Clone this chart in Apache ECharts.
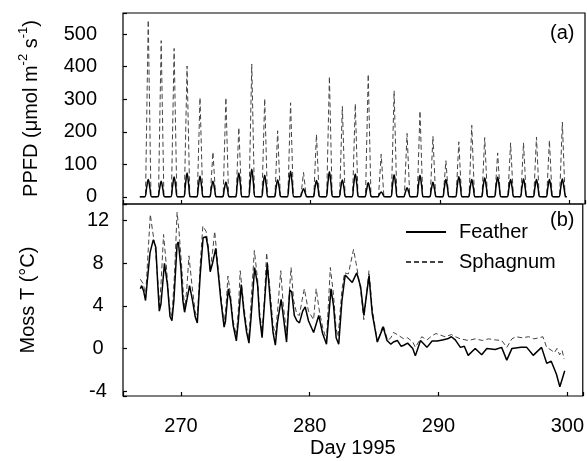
<!DOCTYPE html>
<html><head><meta charset="utf-8">
<script src="https://cdn.jsdelivr.net/npm/echarts@6/dist/echarts.min.js"></script>
<style>html,body{margin:0;padding:0;background:#fff}#c{width:587px;height:461px}</style>
</head><body><div id="c"></div>
<script>
const xTicks = [270, 280, 290, 300];
const ppfdTicks = [0, 100, 200, 300, 400, 500];
const tempTicks = [-4, 0, 4, 8, 12];

// PPFD (umol m-2 s-1), panel (a): [day, value]
const featherPPFD = [
[266.8,0],
[267.17,0],[267.32,27],[267.45,53],[267.58,27],[267.73,0],
[268.17,0],[268.32,24],[268.45,48],[268.58,24],[268.73,0],
[269.17,0],[269.32,30],[269.45,61],[269.58,30],[269.73,0],
[270.17,0],[270.32,36],[270.45,73],[270.58,36],[270.73,0],
[271.17,0],[271.32,31],[271.45,63],[271.58,31],[271.73,0],
[272.17,0],[272.32,24],[272.45,48],[272.58,24],[272.73,0],
[273.17,0],[273.32,22],[273.45,45],[273.58,22],[273.73,0],
[274.17,0],[274.32,36],[274.45,73],[274.58,36],[274.73,0],
[275.17,0],[275.32,42],[275.45,85],[275.58,42],[275.73,0],
[276.17,0],[276.32,33],[276.45,66],[276.58,33],[276.73,0],
[277.17,0],[277.32,26],[277.45,52],[277.58,26],[277.73,0],
[278.17,0],[278.32,39],[278.45,79],[278.58,39],[278.73,0],
[279.17,0],[279.32,12],[279.45,25],[279.58,12],[279.73,0],
[280.17,0],[280.32,25],[280.45,50],[280.58,25],[280.73,0],
[281.17,0],[281.32,38],[281.45,77],[281.58,38],[281.73,0],
[282.17,0],[282.32,26],[282.45,52],[282.58,26],[282.73,0],
[283.17,0],[283.32,35],[283.45,70],[283.58,35],[283.73,0],
[284.17,0],[284.32,21],[284.45,43],[284.58,21],[284.73,0],
[285.17,0],[285.32,8],[285.45,15],[285.58,8],[285.73,0],
[286.17,0],[286.32,34],[286.45,68],[286.58,34],[286.73,0],
[287.17,0],[287.32,14],[287.45,28],[287.58,14],[287.73,0],
[288.17,0],[288.32,33],[288.45,66],[288.58,33],[288.73,0],
[289.17,0],[289.32,22],[289.45,45],[289.58,22],[289.73,0],
[290.17,0],[290.32,26],[290.45,53],[290.58,26],[290.73,0],
[291.17,0],[291.32,31],[291.45,62],[291.58,31],[291.73,0],
[292.17,0],[292.32,26],[292.45,53],[292.58,26],[292.73,0],
[293.17,0],[293.32,29],[293.45,58],[293.58,29],[293.73,0],
[294.17,0],[294.32,30],[294.45,60],[294.58,30],[294.73,0],
[295.17,0],[295.32,26],[295.45,53],[295.58,26],[295.73,0],
[296.17,0],[296.32,27],[296.45,55],[296.58,27],[296.73,0],
[297.17,0],[297.32,26],[297.45,53],[297.58,26],[297.73,0],
[298.17,0],[298.32,26],[298.45,53],[298.58,26],[298.73,0],
[299.17,0],[299.32,27],[299.45,55],[299.58,27],[299.73,0],
[299.8,0]
];
const sphagnumPPFD = [
[266.8,0],
[267.24,0],[267.45,543],[267.66,0],
[268.24,0],[268.45,480],[268.66,0],
[269.24,0],[269.45,456],[269.66,0],
[270.24,0],[270.45,402],[270.66,0],
[271.24,0],[271.45,305],[271.66,0],
[272.24,0],[272.45,138],[272.66,0],
[273.24,0],[273.45,305],[273.66,0],
[274.24,0],[274.45,213],[274.66,0],
[275.24,0],[275.45,408],[275.66,0],
[276.24,0],[276.45,302],[276.66,0],
[277.24,0],[277.45,203],[277.66,0],
[278.24,0],[278.45,289],[278.66,0],
[279.24,0],[279.45,75],[279.66,0],
[280.24,0],[280.45,192],[280.66,0],
[281.24,0],[281.45,370],[281.66,0],
[282.24,0],[282.45,278],[282.66,0],
[283.24,0],[283.45,286],[283.66,0],
[284.24,0],[284.45,377],[284.66,0],
[285.24,0],[285.45,131],[285.66,0],
[286.24,0],[286.45,326],[286.66,0],
[287.24,0],[287.45,195],[287.66,0],
[288.24,0],[288.45,264],[288.66,0],
[289.24,0],[289.45,186],[289.66,0],
[290.24,0],[290.45,111],[290.66,0],
[291.24,0],[291.45,169],[291.66,0],
[292.24,0],[292.45,220],[292.66,0],
[293.24,0],[293.45,182],[293.66,0],
[294.24,0],[294.45,135],[294.66,0],
[295.24,0],[295.45,166],[295.66,0],
[296.24,0],[296.45,166],[296.66,0],
[297.24,0],[297.45,184],[297.66,0],
[298.24,0],[298.45,174],[298.66,0],
[299.24,0],[299.45,230],[299.66,0],
[299.8,0]
];

// Moss temperature (deg C), panel (b): [day, value]
const featherT = [
[266.85,5.6],[266.95,5.9],[267.1,5.4],[267.25,4.5],[267.4,6.5],[267.6,9.0],[267.85,10.2],[268.05,9.5],[268.2,6.0],[268.32,3.5],
[268.45,4.2],[268.72,8.0],[268.95,6.0],[269.15,3.0],[269.3,2.6],[269.45,4.5],[269.7,9.8],[269.8,10.0],[270.0,7.5],[270.15,4.5],
[270.28,3.4],[270.45,4.5],[270.67,5.9],[270.9,4.5],[271.1,3.0],[271.27,2.4],[271.5,7.0],[271.72,10.4],[271.95,10.5],[272.1,9.5],
[272.27,7.2],[272.45,8.0],[272.7,9.4],[272.9,7.0],[273.1,4.5],[273.35,2.0],[273.45,2.5],[273.68,5.6],[273.85,4.5],[274.05,2.2],
[274.3,0.7],[274.45,2.5],[274.68,6.0],[274.9,3.3],[275.1,1.5],[275.28,0.5],[275.45,3.0],[275.72,7.6],[275.95,6.0],[276.1,3.0],
[276.3,1.0],[276.5,4.5],[276.7,8.0],[276.95,4.2],[277.15,1.5],[277.33,0.3],[277.5,2.5],[277.78,4.6],[277.95,3.0],[278.2,0.6],
[278.45,5.5],[278.6,5.3],[278.8,3.1],[279.0,2.6],[279.2,2.4],[279.45,3.5],[279.65,3.9],[279.9,2.6],[280.3,1.5],[280.7,3.1],
[281.0,1.4],[281.3,0.4],[281.65,5.6],[281.85,4.0],[282.05,1.0],[282.25,0.4],[282.5,4.5],[282.75,6.9],[283.3,6.2],[283.65,7.1],
[283.95,5.8],[284.2,3.1],[284.6,6.8],[284.85,3.3],[285.25,0.6],[285.7,2.0],[286.0,0.75],[286.3,0.4],[286.5,0.6],[286.8,0.75],
[287.1,0.2],[287.3,0.3],[287.6,0.5],[288.0,0.0],[288.2,-0.7],[288.6,0.75],[289.1,0.1],[289.5,0.7],[289.9,0.7],[290.3,0.8],
[290.7,0.9],[291.0,1.1],[291.3,0.8],[291.7,0.1],[292.0,0.2],[292.3,-0.65],[292.85,0.0],[293.35,-0.6],[293.75,0.0],[294.4,-0.1],
[294.9,0.1],[295.3,-1.1],[295.7,0.0],[296.4,0.1],[296.85,0.1],[297.35,-0.65],[298.0,0.1],[298.4,-1.4],[298.75,-1.2],[299.15,-2.4],
[299.42,-3.6],[299.8,-2.1]
];
const sphagnumT = [
[266.85,6.5],[266.95,6.6],[267.1,6.0],[267.25,4.8],[267.4,8.0],[267.62,12.6],[267.8,11.0],[268.0,9.5],[268.2,6.5],[268.32,4.0],
[268.45,6.0],[268.65,10.7],[268.85,8.0],[269.1,4.0],[269.3,3.0],[269.5,7.0],[269.7,12.8],[269.85,11.0],[270.05,7.8],[270.2,5.0],
[270.3,3.8],[270.45,5.5],[270.62,8.7],[270.85,6.0],[271.1,3.5],[271.27,2.8],[271.5,8.0],[271.7,11.5],[271.95,11.0],[272.1,9.8],
[272.27,7.5],[272.45,9.0],[272.62,11.0],[272.85,8.0],[273.1,5.0],[273.35,2.3],[273.5,4.0],[273.65,6.8],[273.85,5.0],[274.05,2.6],
[274.3,1.2],[274.45,3.5],[274.6,7.3],[274.88,4.0],[275.1,2.0],[275.28,1.0],[275.45,4.5],[275.7,9.2],[275.95,6.5],[276.1,3.5],
[276.3,1.5],[276.5,5.0],[276.65,9.0],[276.95,5.0],[277.15,2.2],[277.33,1.3],[277.5,3.5],[277.75,7.3],[277.95,4.0],[278.2,1.5],
[278.55,7.6],[278.75,4.5],[279.0,3.2],[279.2,3.1],[279.4,4.5],[279.58,5.6],[279.9,3.5],[280.3,2.7],[280.5,5.6],[280.75,3.5],
[281.0,2.0],[281.3,0.8],[281.6,7.6],[281.85,5.0],[282.05,1.8],[282.2,1.1],[282.5,5.5],[282.7,7.1],[283.0,7.0],[283.4,9.3],
[283.6,8.0],[283.95,5.5],[284.2,2.7],[284.6,7.3],[284.85,3.8],[285.25,0.6],[285.7,2.2],[286.05,0.75],[286.3,1.0],[286.5,1.5],
[286.8,1.3],[287.3,0.9],[287.6,1.0],[288.0,0.6],[288.2,0.1],[288.7,1.1],[289.1,0.8],[289.5,1.2],[289.8,1.4],[290.5,1.1],
[291.0,1.3],[291.3,1.1],[291.7,0.9],[292.3,0.75],[292.85,0.9],[293.4,0.75],[293.9,0.9],[294.4,0.8],[294.9,0.75],[295.3,0.1],
[295.7,0.9],[296.0,1.1],[296.5,1.0],[297.0,1.1],[297.4,0.9],[297.8,1.0],[298.1,1.1],[298.4,0.1],[298.8,-0.2],[299.0,-0.4],
[299.2,0.0],[299.4,-0.6],[299.6,-0.2],[299.75,-1.0]
];

const FONT = '"Liberation Sans", Arial, sans-serif';
const FS = 20;
const chart = echarts.init(document.getElementById('c'), null, {renderer: 'canvas'});
function onlyTicks(list) {
  return function (v) {
    const r = Math.round(v * 1000) / 1000;
    return list.indexOf(r) >= 0 ? String(r) : '';
  };
}
const tickStyle = {show: true, inside: true, length: 4, lineStyle: {color: '#000', width: 1.2}};
const solidStyle = {color: '#000', width: 1.5};
const dashStyle = {color: '#444', width: 1, type: [5, 3]};

chart.setOption({
  animation: false,
  backgroundColor: '#fff',
  grid: [
    {left: 123, top: 13, width: 462, height: 191, show: true, borderColor: '#000', borderWidth: 1.2, backgroundColor: 'transparent'},
    {left: 123, top: 204, width: 462, height: 192, show: true, borderColor: '#000', borderWidth: 1.2, backgroundColor: 'transparent'}
  ],
  xAxis: [
    {type: 'value', gridIndex: 0, min: 265.5, max: 301.2, minInterval: 10, maxInterval: 10, position: 'bottom',
     axisLine: {show: false, onZero: false}, axisTick: tickStyle, axisLabel: {show: false}, splitLine: {show: false}},
    {type: 'value', gridIndex: 1, min: 265.5, max: 301.2, minInterval: 10, maxInterval: 10, position: 'bottom',
     axisLine: {show: false, onZero: false}, axisTick: tickStyle, splitLine: {show: false},
     axisLabel: {formatter: onlyTicks(xTicks), color: '#000', fontSize: FS, fontFamily: FONT, margin: 20},
     name: 'Day 1995', nameLocation: 'middle', nameGap: 42,
     nameTextStyle: {color: '#000', fontSize: FS, fontFamily: FONT}}
  ],
  yAxis: [
    {type: 'value', gridIndex: 0, min: -22, max: 565, minInterval: 100, maxInterval: 100,
     axisLine: {show: false, onZero: false}, axisTick: tickStyle, splitLine: {show: false},
     axisLabel: {formatter: onlyTicks(ppfdTicks), color: '#000', fontSize: FS, fontFamily: FONT, margin: 26, align: 'right'},
     name: 'PPFD (\u03bcmol m{s|-2} s{s|-1})', nameLocation: 'middle', nameRotate: 90, nameGap: 78,
     nameTextStyle: {color: '#000', fontSize: FS, fontFamily: FONT, lineHeight: 28,
       rich: {s: {fontSize: 13, fontFamily: FONT, color: '#000', verticalAlign: 'top', lineHeight: 13}}}},
    {type: 'value', gridIndex: 1, min: -4.47, max: 13.57, minInterval: 4, maxInterval: 4,
     axisLine: {show: false, onZero: false}, axisTick: tickStyle, splitLine: {show: false},
     axisLabel: {formatter: onlyTicks(tempTicks), color: '#000', fontSize: FS, fontFamily: FONT, margin: 25, align: 'center', padding: [6, 0, 0, 0]},
     name: 'Moss T (\u00b0C)', nameLocation: 'middle', nameRotate: 90, nameGap: 85,
     nameTextStyle: {color: '#000', fontSize: FS, fontFamily: FONT}}
  ],
  legend: {
    data: ['Feather', 'Sphagnum'], orient: 'vertical', left: 405, top: 222, padding: 0,
    itemWidth: 40, itemHeight: 14, itemGap: 10, selectedMode: false,
    itemStyle: {opacity: 0},
    textStyle: {color: '#000', fontSize: FS, fontFamily: FONT, padding: [0, 0, 0, 8]}
  },
  graphic: [
    {type: 'text', left: 550, top: 23, style: {text: '(a)', font: FS + 'px ' + FONT, fill: '#000'}},
    {type: 'text', left: 550, top: 210, style: {text: '(b)', font: FS + 'px ' + FONT, fill: '#000'}}
  ],
  series: [
    {name: 'Sphagnum', type: 'line', xAxisIndex: 0, yAxisIndex: 0, data: sphagnumPPFD, symbol: 'none',
     lineStyle: dashStyle, itemStyle: {color: '#444'}},
    {name: 'Feather', type: 'line', xAxisIndex: 0, yAxisIndex: 0, data: featherPPFD, symbol: 'none', smooth: 0.4,
     lineStyle: solidStyle, itemStyle: {color: '#000'}},
    {name: 'Sphagnum', type: 'line', xAxisIndex: 1, yAxisIndex: 1, data: sphagnumT, symbol: 'none',
     lineStyle: dashStyle, itemStyle: {color: '#444'}},
    {name: 'Feather', type: 'line', xAxisIndex: 1, yAxisIndex: 1, data: featherT, symbol: 'none',
     lineStyle: solidStyle, itemStyle: {color: '#000'}}
  ]
});
</script>
</body></html>
